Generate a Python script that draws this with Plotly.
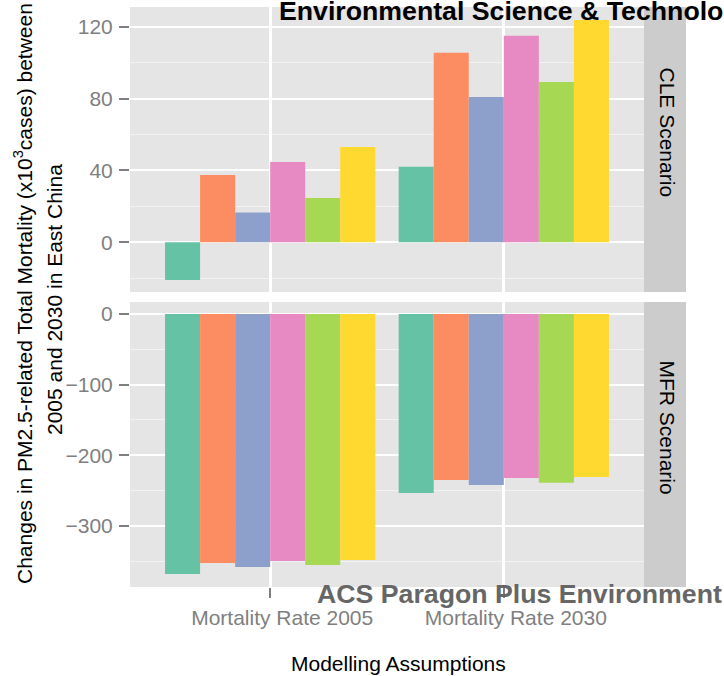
import plotly.graph_objects as go

# ---- data -------------------------------------------------------------
categories = ["Mortality Rate 2005", "Mortality Rate 2030"]
series_names = ["Case 1", "Case 2", "Case 3", "Case 4", "Case 5", "Case 6"]
series_colors = ["#66C2A5", "#FC8D62", "#8DA0CB", "#E78AC3", "#A6D854", "#FFD92F"]

# CLE scenario (x10^3 cases): one list per series, values for [2005, 2030]
cle_values = [
    [-21.0, 42.1],
    [37.5, 105.5],
    [16.5, 80.9],
    [44.7, 115.0],
    [24.7, 89.2],
    [53.0, 123.7],
]
# MFR scenario
mfr_values = [
    [-368.0, -253.2],
    [-352.4, -234.8],
    [-358.0, -241.9],
    [-349.6, -232.0],
    [-355.2, -239.0],
    [-348.1, -230.6],
]
panel_labels = ["CLE Scenario", "MFR Scenario"]
y_title_1 = "Changes in PM2.5-related Total Mortality (x10<sup>3</sup>cases) between"
y_title_2 = "2005 and 2030 in East China"
x_title = "Modelling Assumptions"
watermark_top = "Environmental Science & Technology"
watermark_bottom = "ACS Paragon Plus Environment"

# ---- geometry (pixels) ------------------------------------------------
W, H = 724, 676
def px(x):
    return x / W
def py(y):
    return 1 - y / H

PANEL_L, PANEL_R = 130, 644
STRIP_R = 686
TOP_T, TOP_B = 7, 292
BOT_T, BOT_B = 302, 587

FONT = "Liberation Sans, Arial, sans-serif"
GREY_TXT = "#7F7F7F"

fig = go.Figure()
for i, name in enumerate(series_names):
    fig.add_trace(go.Bar(x=categories, y=cle_values[i], name=name,
                         marker=dict(color=series_colors[i], line=dict(width=0)),
                         xaxis="x", yaxis="y", showlegend=False))
for i, name in enumerate(series_names):
    fig.add_trace(go.Bar(x=categories, y=mfr_values[i], name=name,
                         marker=dict(color=series_colors[i], line=dict(width=0)),
                         xaxis="x2", yaxis="y2", showlegend=False))

common_x = dict(
    type="category", range=[-0.6, 1.6], domain=[px(PANEL_L), px(PANEL_R)],
    showgrid=True, gridcolor="white", gridwidth=2.6, zeroline=False,
    showline=False,
)
common_y = dict(
    showgrid=True, gridcolor="white", gridwidth=2, zeroline=False, showline=False,
    ticks="outside", ticklen=10, tickwidth=2.2, tickcolor=GREY_TXT,
    tickfont=dict(family=FONT, size=21, color=GREY_TXT),
    ticklabelstandoff=2,
    minor=dict(showgrid=True, gridcolor="#F2F2F2", gridwidth=1.2, ticks=""),
)

fig.update_layout(
    width=W, height=H, autosize=False,
    margin=dict(l=0, r=0, t=0, b=0),
    paper_bgcolor="white", plot_bgcolor="#E5E5E5",
    barmode="group", bargap=0.1, bargroupgap=0,
    font=dict(family=FONT, size=21, color="black"),
    xaxis=dict(common_x, anchor="y", showticklabels=False, ticks=""),
    xaxis2=dict(common_x, anchor="y2", matches="x", ticks="outside", ticklen=10,
                tickwidth=2.2, tickcolor=GREY_TXT,
                tickfont=dict(family=FONT, size=21, color=GREY_TXT),
                ticklabelshift=12, ticklabelstandoff=2),
    yaxis=dict(common_y, domain=[py(TOP_B), py(TOP_T)], range=[-27.7, 131.0],
               tickvals=[0, 40, 80, 120], minor_tickvals=[-20, 20, 60, 100], anchor="x"),
    yaxis2=dict(common_y, domain=[py(BOT_B), py(BOT_T)], range=[-386.4, 17.0],
                tickvals=[-300, -200, -100, 0], minor_tickvals=[-350, -250, -150, -50], anchor="x2"),
)

shapes = []
annotations = []
for (t, b), label in zip([(TOP_T, TOP_B), (BOT_T, BOT_B)], panel_labels):
    shapes.append(dict(type="rect", xref="paper", yref="paper",
                       x0=px(PANEL_R), x1=px(STRIP_R), y0=py(b), y1=py(t),
                       fillcolor="#CCCCCC", line=dict(width=0), layer="below"))
    annotations.append(dict(text=label, xref="paper", yref="paper",
                            x=px((PANEL_R + STRIP_R) / 2 + 2), y=py((t + b) / 2 - 17),
                            textangle=90, showarrow=False,
                            font=dict(family=FONT, size=21, color="black"),
                            xanchor="center", yanchor="middle"))

annotations += [
    dict(text=y_title_1, xref="paper", yref="paper", x=px(23), y=py(294),
         textangle=-90, showarrow=False, xanchor="center", yanchor="middle",
         font=dict(family=FONT, size=21, color="black")),
    dict(text=y_title_2, xref="paper", yref="paper", x=px(54), y=py(300),
         textangle=-90, showarrow=False, xanchor="center", yanchor="middle",
         font=dict(family=FONT, size=21, color="black")),
    dict(text=x_title, xref="paper", yref="paper", x=px(398), y=py(663),
         showarrow=False, xanchor="center", yanchor="middle",
         font=dict(family=FONT, size=21, color="black")),
    dict(text="<b>" + watermark_top + "</b>", xref="paper", yref="paper",
         x=px(277), y=py(11), showarrow=False, xanchor="left", yanchor="middle",
         font=dict(family=FONT, size=26.7, color="black")),
    dict(text="<b>" + watermark_bottom + "</b>", xref="paper", yref="paper",
         x=px(315), y=py(594), showarrow=False, xanchor="left", yanchor="middle",
         font=dict(family=FONT, size=26.7, color="#666666")),
]
fig.update_layout(shapes=shapes, annotations=annotations)

fig.write_html("out.html")
